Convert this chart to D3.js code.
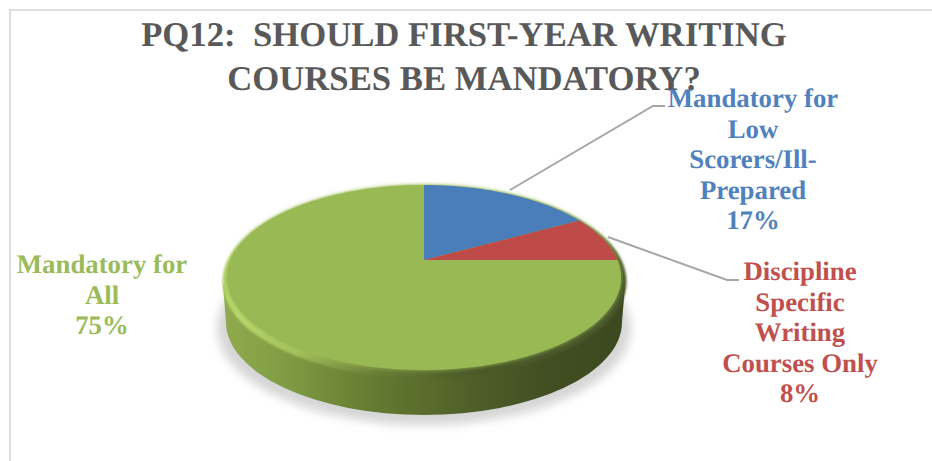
<!DOCTYPE html>
<html>
<head>
<meta charset="utf-8">
<script src="https://cdn.jsdelivr.net/npm/d3@7"></script>
<style>
html, body { margin: 0; padding: 0; background: #fff; }
svg { display: block; }
text { font-family: "Liberation Serif", serif; font-weight: bold; text-rendering: geometricPrecision; }
</style>
</head>
<body>
<svg id="chart" width="932" height="461"></svg>
<script>
// Survey responses, in percent
const categories = ["Mandatory for Low Scorers/Ill-Prepared", "Discipline Specific Writing Courses Only", "Mandatory for All"];
const shares = [17, 8, 75];
const sliceColors = ["#4a7ebb", "#be4b48", "#98b954"];
const labelColors = ["#4f81bd", "#c0504d", "#9bbb59"];
const labelLines = [
  ["Mandatory for", "Low", "Scorers/Ill-", "Prepared", "17%"],
  ["Discipline", "Specific", "Writing", "Courses Only", "8%"],
  ["Mandatory for", "All", "75%"]
];
const titleLines = ["PQ12:  SHOULD FIRST-YEAR WRITING", "COURSES BE MANDATORY?"];

const svg = d3.select("#chart");
const defs = svg.append("defs");

// Chart frame: only the top and left edges fall inside the page
svg.append("path").attr("d", "M10,461V10H932").attr("fill", "none").attr("stroke", "#dedede").attr("stroke-width", 2);

// Disc geometry: face ellipse plus the point the slices converge on under the tilt
const face = { cx: 424, cy: 277.5, rx: 197, ry: 92.5, apexY: 260 };
const tilt = (face.apexY - face.cy) / face.ry;

// Projects a point of the flat unit pie onto the tilted face
function project(angle, r) {
  const ux = r * Math.sin(angle), uy = -r * Math.cos(angle);
  const d = 1 + tilt * uy;
  return [
    face.cx + face.rx * ux * Math.sqrt(1 - tilt * tilt) / d,
    face.cy + face.ry * (uy + tilt) / d
  ];
}

const pie = d3.pie().sort(null).value(d => d);
const arcs = pie(shares);
const line = d3.line();

function wedge(a) {
  const n = Math.max(8, Math.ceil((a.endAngle - a.startAngle) * 60));
  const steps = d3.range(n + 1).map(i => a.startAngle + (a.endAngle - a.startAngle) * i / n);
  return line([project(0, 0), ...steps.map(t => project(t, 1))]) + "Z";
}

// Gradients and soft edges for the solid body
const wall = defs.append("linearGradient").attr("id", "wall");
[[0, "#8fab4d"], [0.12, "#84a046"], [0.4, "#62772f"], [0.62, "#4f5f29"], [0.8, "#414f22"], [1, "#3c481f"]]
  .forEach(([o, c]) => wall.append("stop").attr("offset", o).attr("stop-color", c));

const rim = defs.append("linearGradient").attr("id", "rim").attr("x1", 0).attr("y1", 0.1).attr("x2", 1).attr("y2", 0.65);
[[0, "#a9c860"], [0.28, "#b8d86c"], [0.46, "#a3c35c"], [0.66, "#6b8038"], [0.84, "#4b5a28"], [1, "#48562a"]]
  .forEach(([o, c]) => rim.append("stop").attr("offset", o).attr("stop-color", c));

defs.append("filter").attr("id", "soft").attr("x", "-10%").attr("y", "-20%").attr("width", "120%").attr("height", "140%")
  .append("feGaussianBlur").attr("stdDeviation", 5);
defs.append("filter").attr("id", "edge").attr("x", "-5%").attr("y", "-5%").attr("width", "110%").attr("height", "110%")
  .append("feGaussianBlur").attr("stdDeviation", 2);
defs.append("filter").attr("id", "rimEdge").attr("x", "-5%").attr("y", "-5%").attr("width", "110%").attr("height", "110%")
  .append("feGaussianBlur").attr("stdDeviation", 1);

const disc = svg.append("g");

// Cast shadow under the disc
disc.append("ellipse").attr("cx", 424).attr("cy", 328).attr("rx", 207).attr("ry", 97)
  .attr("fill", "#d6d6d6").attr("filter", "url(#soft)");

// Side wall: lower ellipse joined to the widest line of the rim
disc.append("path")
  .attr("d", "M223,285 L226,322 A198,93 0 0 0 622,322 L625,285 Z")
  .attr("fill", "url(#wall)");

// Bevelled rim
disc.append("ellipse").attr("cx", 424.5).attr("cy", 281.5).attr("rx", 202).attr("ry", 96.5)
  .attr("fill", "url(#rim)").attr("filter", "url(#rimEdge)");

// Base colour of the face softens into the rim, slices sit on top
disc.append("ellipse").attr("cx", face.cx).attr("cy", face.cy).attr("rx", face.rx).attr("ry", face.ry)
  .attr("fill", sliceColors[2]).attr("filter", "url(#edge)");

disc.selectAll("path.slice").data(arcs).join("path")
  .attr("class", "slice")
  .attr("d", wedge)
  .attr("fill", (d, i) => sliceColors[i]);

// Leader lines
const leaders = [
  [[510, 190], [653, 106], [665, 106]],
  [[608, 237], [727, 280], [739, 280]]
];
svg.selectAll("path.leader").data(leaders).join("path")
  .attr("class", "leader")
  .attr("d", d => line(d))
  .attr("fill", "none").attr("stroke", "#a6a6a6").attr("stroke-width", 2);

// Title
svg.append("g").selectAll("text").data(titleLines).join("text")
  .attr("x", 464).attr("y", (d, i) => 46 + i * 44)
  .attr("text-anchor", "middle").attr("font-size", 34.7).attr("fill", "#595959")
  .attr("xml:space", "preserve").style("white-space", "pre")
  .text(d => d);

// Slice labels
const labelAnchors = [[753, 107], [800, 280], [102, 273]];
const labelGap = 30.5;
const labels = svg.append("g").selectAll("text").data(labelLines).join("text")
  .attr("text-anchor", "middle").attr("font-size", 26.8)
  .attr("fill", (d, i) => labelColors[i]);
labels.each(function (d, i) {
  d3.select(this).selectAll("tspan").data(d).join("tspan")
    .attr("x", labelAnchors[i][0])
    .attr("y", (t, j) => labelAnchors[i][1] + j * labelGap)
    .text(t => t);
});
</script>
</body>
</html>
